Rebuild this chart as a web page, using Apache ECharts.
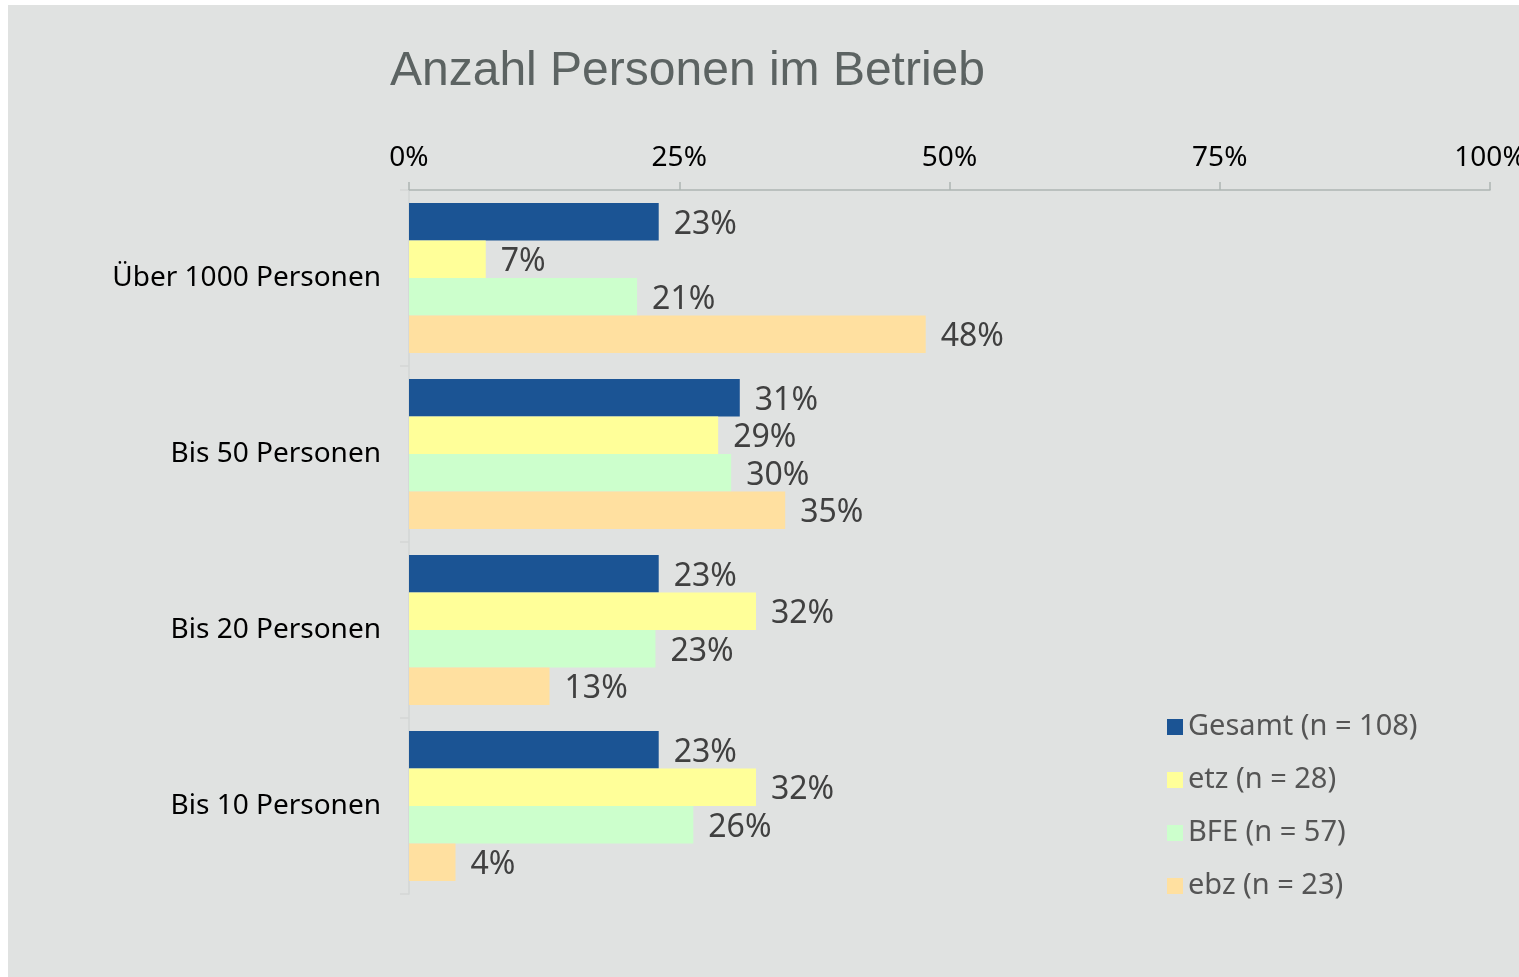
<!DOCTYPE html>
<html>
<head>
<meta charset="utf-8">
<script src="https://cdn.jsdelivr.net/npm/echarts@6/dist/echarts.min.js"></script>
<style>
  html, body { margin: 0; padding: 0; background: #fff; }
  #chart { width: 1519px; height: 977px; }
</style>
</head>
<body>
<div id="chart"></div>
<script>
// Kategorien von oben nach unten
var categories = ['Über 1000 Personen', 'Bis 50 Personen', 'Bis 20 Personen', 'Bis 10 Personen'];
var seriesNames = ['Gesamt (n = 108)', 'etz (n = 28)', 'BFE (n = 57)', 'ebz (n = 23)'];
// Anteile in %
var gesamt = [23.1, 30.6, 23.1, 23.1];
var etz = [7.1, 28.6, 32.1, 32.1];
var bfe = [21.1, 29.8, 22.8, 26.3];
var ebz = [47.8, 34.8, 13.0, 4.3];
var xTicks = [0, 25, 50, 75, 100];

var colors = ['#1b5494', '#ffff99', '#ccffcc', '#ffe0a0'];
var font = '"Noto Sans", sans-serif';

var chart = echarts.init(document.getElementById('chart'));

function makeSeries (name, data) {
  return {
    name: name,
    type: 'bar',
    data: data,
    barWidth: 37.5,
    barGap: '0%',
    label: {
      show: true,
      position: 'right',
      distance: 15,
      offset: [0, 3],
      color: '#404040',
      fontSize: 32,
      fontFamily: font,
      formatter: function (p) {
        return Math.round(p.value) + '%'
      }
    }
  }
}

chart.setOption({
  backgroundColor: '#fff',
  color: colors,
  animation: false,
  graphic: [{
    type: 'rect',
    z: -10,
    shape: { x: 8, y: 5, width: 1511, height: 972 },
    style: { fill: '#e0e2e1' }
  }],
  title: {
    text: 'Anzahl Personen im Betrieb',
    left: 385,
    top: 43,
    textStyle: {
      fontFamily: '"Liberation Sans", Arial, sans-serif',
      fontSize: 48,
      fontWeight: 'normal',
      color: '#5c6362'
    }
  },
  legend: {
    orient: 'vertical',
    left: 1162,
    top: 707,
    itemWidth: 16,
    itemHeight: 16,
    itemGap: 23,
    icon: 'rect',
    data: seriesNames,
    textStyle: {
      fontFamily: font,
      fontSize: 29,
      lineHeight: 30,
      color: '#555'
    }
  },
  grid: {
    left: 409,
    top: 190,
    right: 29,
    bottom: 83,
    containLabel: false,
    outerBoundsMode: 'none' // 100%-Label darf über den Rand laufen
  },
  xAxis: {
    type: 'value',
    position: 'top',
    min: xTicks[0],
    max: xTicks[xTicks.length - 1],
    interval: 25,
    axisLine: { show: true, lineStyle: { color: '#adb5b2', width: 1.5 } },
    axisTick: { show: true, length: 8, lineStyle: { color: '#adb5b2', width: 1.5 } },
    splitLine: { show: false },
    axisLabel: {
      margin: 18,
      color: '#000',
      fontSize: 28,
      fontFamily: font,
      formatter: '{value}%'
    }
  },
  yAxis: {
    type: 'category',
    inverse: true,
    data: categories,
    axisLine: { show: true, lineStyle: { color: '#d3d6d5', width: 1.5 } },
    axisTick: { show: true, length: 9, lineStyle: { color: '#d3d6d5', width: 1.5 } },
    axisLabel: {
      margin: 28,
      color: '#000',
      fontSize: 28,
      fontFamily: font
    }
  },
  series: [
    makeSeries(seriesNames[0], gesamt),
    makeSeries(seriesNames[1], etz),
    makeSeries(seriesNames[2], bfe),
    makeSeries(seriesNames[3], ebz)
  ]
})
</script>
</body>
</html>
